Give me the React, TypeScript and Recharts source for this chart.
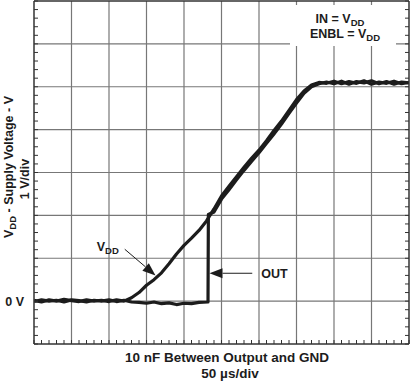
import { LineChart, Line, XAxis, YAxis, CartesianGrid, ReferenceLine } from "recharts";

// time in divisions (50 µs/div), voltage in divisions (1 V/div)
const vddTime = [
  0, 0.2, 0.4, 0.6, 0.8, 1.0, 1.2, 1.4, 1.6, 1.8, 2.0, 2.2, 2.4, 2.6, 2.8, 3.0, 3.2, 3.4, 3.6, 3.8,
  4.0, 4.2, 4.4, 4.6, 4.8, 5.0, 5.2, 5.4, 5.6, 5.8, 6.0, 6.2, 6.4, 6.6, 6.8, 7.0, 7.2, 7.4, 7.6, 7.8,
  8.0, 8.2, 8.4, 8.6, 8.8, 9.0, 9.2, 9.4, 9.6, 9.8, 10,
];
const vddVolts = [
  0.02, -0.02, 0.03, 0.0, 0.04, 0.01, -0.01, 0.03, 0.0, 0.02, -0.01, 0.03, 0.0, 0.08, 0.2, 0.37, 0.5, 0.66, 0.87, 1.1,
  1.3, 1.47, 1.65, 1.87, 2.15, 2.45, 2.68, 2.9, 3.12, 3.33, 3.52, 3.74, 3.98, 4.2, 4.45, 4.7, 4.9, 5.04, 5.1, 5.08,
  5.13, 5.07, 5.12, 5.08, 5.14, 5.06, 5.11, 5.08, 5.13, 5.07, 5.1,
];

const outTime = [
  0, 0.2, 0.4, 0.6, 0.8, 1.0, 1.2, 1.4, 1.6, 1.8, 2.0, 2.2, 2.4, 2.6, 2.8, 3.0, 3.2, 3.4, 3.6, 3.8,
  4.0, 4.2, 4.4, 4.64, 4.65, 4.8, 5.0, 5.2, 5.4, 5.6, 5.8, 6.0, 6.2, 6.4, 6.6, 6.8, 7.0, 7.2, 7.4, 7.6,
  7.8, 8.0, 8.2, 8.4, 8.6, 8.8, 9.0, 9.2, 9.4, 9.6, 9.8, 10,
];
const outVolts = [
  -0.01, 0.03, 0.0, 0.02, -0.02, 0.03, 0.01, -0.02, 0.02, 0.0, 0.03, -0.01, 0.02, -0.02, -0.03, -0.05, -0.02, -0.06, -0.04, -0.08,
  -0.05, -0.06, -0.03, -0.02, 2.02, 2.08, 2.38, 2.6, 2.83, 3.05, 3.26, 3.46, 3.68, 3.9, 4.13, 4.38, 4.62, 4.85, 5.0, 5.07,
  5.11, 5.07, 5.13, 5.06, 5.12, 5.09, 5.14, 5.07, 5.12, 5.06, 5.11, 5.09,
];

const majorX = [1, 2, 3, 4, 5, 6, 7, 8, 9];
const majorY = [0, 1, 2, 3, 4, 5, 6];
const minorX = Array.from({ length: 51 }, (_, i) => Math.round(i * 2) / 10);
const minorY = Array.from({ length: 41 }, (_, i) => Math.round(-10 + i * 2) / 10);

const vddData = vddTime.map((t, i) => ({ t, v: vddVolts[i] }));
const outData = outTime.map((t, i) => ({ t, v: outVolts[i] }));

const ink = "#1c1c1c";
const font = "'Liberation Sans', Arial, sans-serif";

const noLabel = () => <g />;

const arrowShape = (label: "VDD" | "OUT") => (props: any) => {
  const { x1, y1, x2, y2 } = props;
  const ang = Math.atan2(y2 - y1, x2 - x1);
  const len = 13;
  const half = 5;
  const bx = x2 - len * Math.cos(ang);
  const by = y2 - len * Math.sin(ang);
  const px = -Math.sin(ang) * half;
  const py = Math.cos(ang) * half;
  return (
    <g>
      <line x1={x1} y1={y1} x2={bx} y2={by} stroke={ink} strokeWidth={1} />
      <polygon points={`${x2},${y2} ${bx + px},${by + py} ${bx - px},${by - py}`} fill={ink} />
      {label === "VDD" ? (
        <text x={x1 - 6} y={y1 + 2} textAnchor="end" fontFamily={font} fontWeight="bold" fontSize={12.5} fill={ink}>
          V<tspan fontSize={9.5} dy={3}>DD</tspan>
        </text>
      ) : (
        <text x={x1 + 9} y={y1 + 5} textAnchor="start" fontFamily={font} fontWeight="bold" fontSize={12.5} fill={ink}>
          OUT
        </text>
      )}
    </g>
  );
};

export default function App() {
  const border = { stroke: "#333", strokeWidth: 1.5 };
  const tickStyle = { stroke: "#333", strokeWidth: 1 };
  return (
    <div style={{ position: "absolute", left: 0, top: 0, width: 411, height: 388, background: "#fff" }}>
      <LineChart width={411} height={388} margin={{ top: 1, right: 2, bottom: 44, left: 0 }}>
        <XAxis xAxisId="bot" dataKey="t" type="number" domain={[0, 10]} ticks={minorX} interval={0} allowDataOverflow
          orientation="bottom" mirror tick={noLabel} tickSize={4} tickLine={tickStyle} axisLine={border} />
        <XAxis xAxisId="top" type="number" domain={[0, 10]} ticks={minorX} interval={0} allowDataOverflow
          orientation="top" mirror tick={noLabel} tickSize={4} tickLine={tickStyle} axisLine={border} />
        <YAxis yAxisId="label" type="number" domain={[-1, 7]} ticks={[0]} interval={0} allowDataOverflow width={34}
          tickLine={false} axisLine={false} tickSize={0} tickMargin={10} tickFormatter={() => "0 V"}
          tick={{ fontFamily: font, fontWeight: "bold", fontSize: 12.5, fill: ink }} />
        <YAxis yAxisId="left" type="number" domain={[-1, 7]} ticks={minorY} interval={0} allowDataOverflow
          orientation="left" mirror tick={noLabel} tickSize={4} tickLine={tickStyle} axisLine={border} />
        <YAxis yAxisId="right" type="number" domain={[-1, 7]} ticks={minorY} interval={0} allowDataOverflow
          orientation="right" mirror tick={noLabel} tickSize={4} tickLine={tickStyle} axisLine={border} />
        <CartesianGrid xAxisId="bot" yAxisId="left" verticalValues={majorX} horizontalValues={majorY}
          stroke="#777" strokeWidth={1.2} />
        <Line data={vddData} dataKey="v" xAxisId="bot" yAxisId="left" type="linear" dot={false}
          stroke={ink} strokeWidth={3.2} strokeLinejoin="round" isAnimationActive={false} />
        <Line data={outData} dataKey="v" xAxisId="bot" yAxisId="left" type="linear" dot={false}
          stroke={ink} strokeWidth={3.2} strokeLinejoin="round" isAnimationActive={false} />
        <ReferenceLine xAxisId="bot" yAxisId="left" segment={[{ x: 2.42, y: 1.21 }, { x: 3.24, y: 0.6 }]}
          shape={arrowShape("VDD")} />
        <ReferenceLine xAxisId="bot" yAxisId="left" segment={[{ x: 5.82, y: 0.65 }, { x: 4.68, y: 0.65 }]}
          shape={arrowShape("OUT")} />
      </LineChart>
      <svg width={411} height={388} style={{ position: "absolute", left: 0, top: 0, pointerEvents: "none" }}
        fontFamily={font} fontWeight="bold" fontSize={12.5} fill={ink}>
        <rect x={290} y={5} width={106} height={41} fill="#fff" />
        <text x={340} y={23} textAnchor="middle">
          IN = V<tspan fontSize={9.5} dy={3}>DD</tspan>
        </text>
        <text x={345} y={38} textAnchor="middle">
          ENBL = V<tspan fontSize={9.5} dy={3}>DD</tspan>
        </text>
        <text transform="translate(13,167) rotate(-90)" textAnchor="middle">
          V<tspan fontSize={9.5} dy={3}>DD</tspan><tspan dy={-3}> - Supply Voltage - V</tspan>
        </text>
        <text transform="translate(29,179) rotate(-90)" textAnchor="middle">1 V/div</text>
        <text x={227} y={362} textAnchor="middle" fontSize={13.5}>10 nF Between Output and GND</text>
        <text x={230} y={378} textAnchor="middle" fontSize={13.5}>50 µs/div</text>
      </svg>
    </div>
  );
}
